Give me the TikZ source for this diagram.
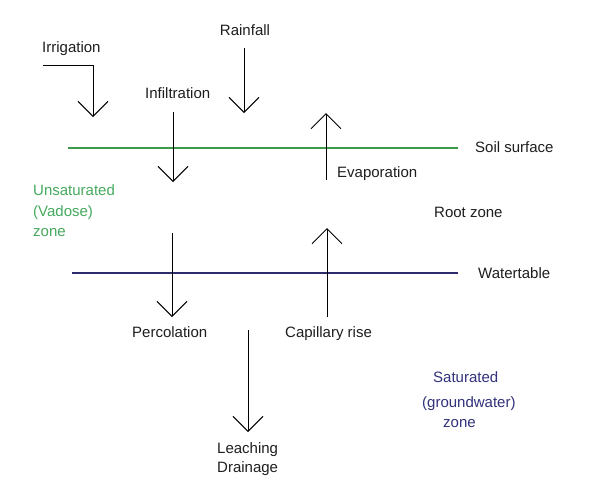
\documentclass[tikz,border=0pt]{standalone}
\usepackage{fontspec}
\setmainfont{Liberation Sans}
\usetikzlibrary{arrows.meta}
\definecolor{soilgreen}{RGB}{60,155,75}
\definecolor{vadosegreen}{RGB}{70,170,95}
\definecolor{wtblue}{RGB}{45,45,110}
\definecolor{satblue}{RGB}{50,50,125}
\definecolor{txt}{RGB}{30,30,30}
\begin{document}
\begin{tikzpicture}[x=1pt,y=-1pt,
  lbl/.style={inner sep=0pt,anchor=west,text height=10.5pt,text depth=0pt,font=\fontsize{15}{18}\selectfont,text=txt},
  flow/.style={line width=1pt,-{Straight Barb[length=15pt,width=30pt,line width=1pt]}},
  surf/.style={line width=2pt}]
\useasboundingbox (0,0) rectangle (616,491);
\fill[white] (0,0) rectangle (616,491);

% labels
\node[lbl] (irr) at (42,47) {Irrigation};
\node[lbl,anchor=center] (rain) at (245,30) {Rainfall};
\node[lbl] (infl) at (145,93) {Infiltration};
\node[lbl] (soil) at (475,147) {Soil surface};
\node[lbl] (evap) at (337,172) {Evaporation};
\node[lbl,text=vadosegreen] (uns1) at (33,190) {Unsaturated};
\node[lbl,text=vadosegreen] (uns2) at (33,211) {(Vadose)};
\node[lbl,text=vadosegreen] (uns3) at (33,231) {zone};
\node[lbl] (root) at (434,212) {Root zone};
\node[lbl] (wt) at (478,273) {Watertable};
\node[lbl] (perc) at (132,332) {Percolation};
\node[lbl] (cap) at (285,332) {Capillary rise};
\node[lbl] (leach) at (217,448) {Leaching};
\node[lbl] (drain) at (217,467) {Drainage};
\node[lbl,text=satblue] (sat1) at (433,377) {Saturated};
\node[lbl,text=satblue] (sat2) at (422,402) {(groundwater)};
\node[lbl,text=satblue] (sat3) at (443,422) {zone};

% coordinates
\coordinate (irrA) at (43,65);
\coordinate (irrB) at (93,65);
\coordinate (irrC) at (93,117);
\coordinate (rainA) at (244,48);
\coordinate (rainB) at (244,113);
\coordinate (inflA) at (173,112);
\coordinate (inflB) at (173,182);
\coordinate (evapA) at (326,180);
\coordinate (evapB) at (326,113);
\coordinate (percA) at (172,233);
\coordinate (percB) at (172,317);
\coordinate (capA) at (327,317);
\coordinate (capB) at (327,228);
\coordinate (leachA) at (248,330);
\coordinate (leachB) at (248,432);
\coordinate (soilL) at (68,148);
\coordinate (soilR) at (458,148);
\coordinate (wtL) at (72,273);
\coordinate (wtR) at (458,273);

% surfaces
\draw[surf,soilgreen] (soilL) -- (soilR);
\draw[surf,wtblue] (wtL) -- (wtR);

% flows
\draw[flow] (irrA) -- (irrB) -- (irrC);
\draw[flow] (rainA) -- (rainB);
\draw[flow] (inflA) -- (inflB);
\draw[flow] (evapA) -- (evapB);
\draw[flow] (percA) -- (percB);
\draw[flow] (capA) -- (capB);
\draw[flow] (leachA) -- (leachB);
\end{tikzpicture}
\end{document}
